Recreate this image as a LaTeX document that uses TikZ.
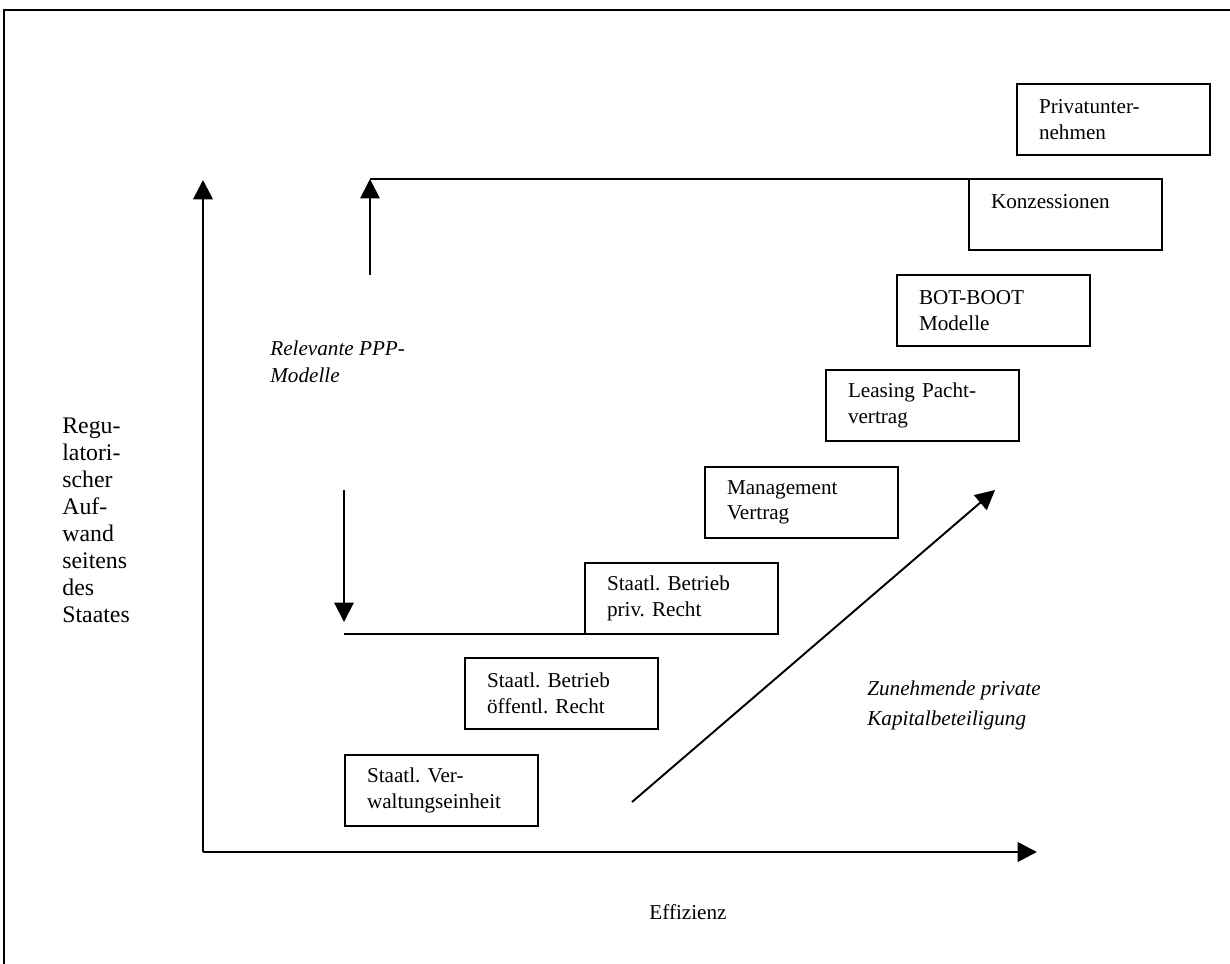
\documentclass[tikz,border=0pt]{standalone}
\usepackage{fontspec}
\setmainfont{Liberation Serif}
\usetikzlibrary{arrows.meta}
\frenchspacing

\def\pxu{0.567pt}

\begin{document}
\begin{tikzpicture}[x=0.567pt, y=-0.567pt,
    stufe/.style={draw, line width=1.1pt, anchor=north west, align=left,
        text width=149*\pxu, inner xsep=22*\pxu, inner ysep=7pt, outer sep=0pt,
        minimum height=71*\pxu, font=\fontsize{12}{14.5}\selectfont},
    pfeil/.style={line width=1.1pt, -{Triangle[length=11pt, width=11pt]}}]

    \useasboundingbox (0,0) rectangle (1230,964);
    \draw[line width=1.1pt] (4,964) -- (4,10) -- (1230,10);

    % Achsen
    \coordinate (ursprung) at (203,852);
    \coordinate (yende) at (203,180);
    \coordinate (xende) at (1037,852);
    \draw[pfeil, line width=1.6pt] (ursprung) -- (yende);
    \draw[pfeil, line width=1.6pt] (ursprung) -- (xende);

    \node[font=\fontsize{12}{14.5}\selectfont] (effizienz) at (688,912) {Effizienz};
    \node[anchor=north west, inner sep=0pt, align=left,
        font=\fontsize{13.5}{15.3}\selectfont] (aufwand) at (62,418)
        {Regu-\\latori-\\scher\\Auf-\\wand\\seitens\\des\\Staates};

    % Stufen
    \node[stufe] (verwaltung) at (345,755) {Staatl. Ver-\\waltungseinheit};
    \node[stufe] (oeffrecht) at (465,658) {Staatl. Betrieb\\öffentl. Recht};
    \node[stufe] (privrecht) at (585,563) {Staatl. Betrieb\\priv. Recht};
    \node[stufe] (management) at (705,467) {Management\\Vertrag};
    \node[stufe] (leasing) at (826,370) {Leasing Pacht-\\vertrag};
    \node[stufe] (bot) at (897,275) {BOT-BOOT\\Modelle};
    \node[stufe] (konzession) at (969,179) {Konzessionen\\\mbox{}};
    \node[stufe] (privat) at (1017,84) {Privatunter-\\nehmen};

    % PPP-Bereich
    \coordinate (obenL) at (370,179);
    \coordinate (obenA) at (370,275);
    \coordinate (untenL) at (344,634);
    \coordinate (untenA) at (344,490);
    \coordinate (untenE) at (344,622);
    \draw[line width=1.1pt] (obenL) -- (konzession.north west);
    \draw[pfeil] (obenA) -- (obenL);
    \draw[line width=1.1pt] (untenL) -- (privrecht.south west);
    \draw[pfeil] (untenA) -- (untenE);
    \node[anchor=north west, inner sep=0pt, align=left,
        font=\fontsize{12}{15.3}\itshape] (ppp) at (270,340)
        {Relevante PPP-\\Modelle};

    % Kapitalbeteiligung
    \coordinate (kapA) at (632,802);
    \coordinate (kapE) at (995,490);
    \draw[pfeil] (kapA) -- (kapE);
    \node[anchor=north west, inner sep=0pt, align=left,
        font=\fontsize{12}{17}\itshape] (kapital) at (867,680)
        {Zunehmende private\\Kapitalbeteiligung};

\end{tikzpicture}
\end{document}
